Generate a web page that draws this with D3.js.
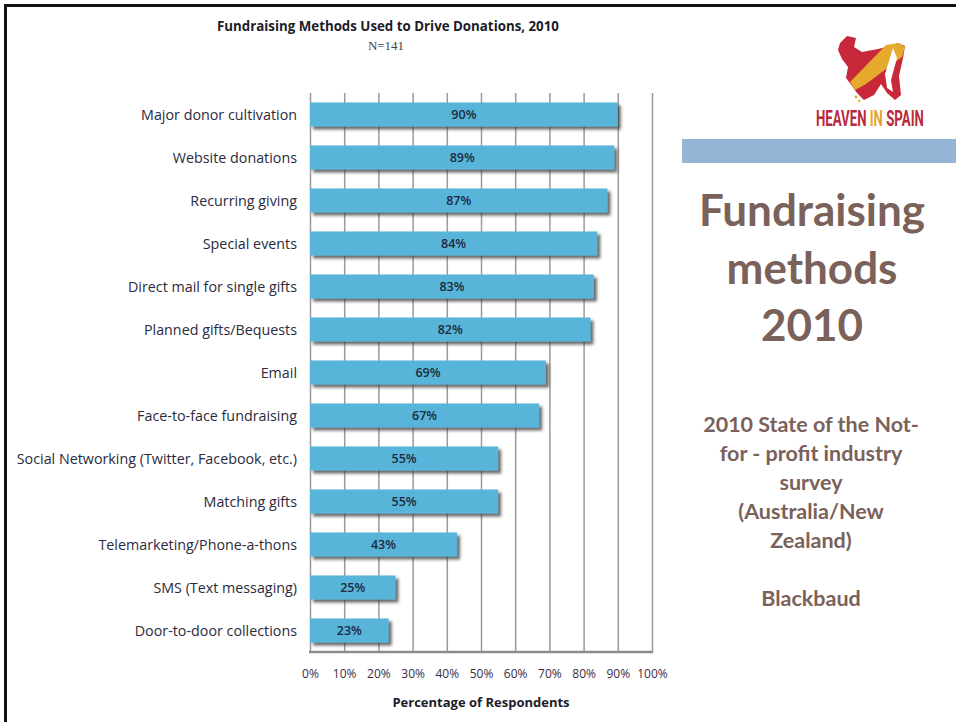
<!DOCTYPE html>
<html>
<head>
<meta charset="utf-8">
<script src="https://cdn.jsdelivr.net/npm/d3@7"></script>
<style>
  html, body { margin: 0; padding: 0; background: #fff; }
  svg { display: block; }
</style>
</head>
<body>
<svg id="slide" width="956" height="722"></svg>
<script>
// Survey results: share of respondents using each fundraising method
const categories = [
  "Major donor cultivation",
  "Website donations",
  "Recurring giving",
  "Special events",
  "Direct mail for single gifts",
  "Planned gifts/Bequests",
  "Email",
  "Face-to-face fundraising",
  "Social Networking (Twitter, Facebook, etc.)",
  "Matching gifts",
  "Telemarketing/Phone-a-thons",
  "SMS (Text messaging)",
  "Door-to-door collections"
];
const values = [90, 89, 87, 84, 83, 82, 69, 67, 55, 55, 43, 25, 23];
const tickValues = [0, 10, 20, 30, 40, 50, 60, 70, 80, 90, 100];

const chartTitle = "Fundraising Methods Used to Drive Donations, 2010";
const chartSubtitle = "N=141";
const axisTitle = "Percentage of Respondents";
const headingLines = ["Fundraising", "methods", "2010"];
const sourceLines = ["2010 State of the Not-", "for - profit industry", "survey", "(Australia/New", "Zealand)", "", "Blackbaud"];
const logoWords = ["HEAVEN ", "IN", " SPAIN"];

const svg = d3.select("#slide");
const brown = "#7a6159";
const labelInk = "#2b2b3d";
const chartFont = "'Open Sans', Lato, sans-serif";

// slide frame (top and left edges)
svg.append("line").attr("x1", 5.5).attr("y1", 5.5).attr("x2", 956).attr("y2", 5.5)
  .attr("stroke", "#111").attr("stroke-width", 3);
svg.append("line").attr("x1", 5.5).attr("y1", 4).attr("x2", 5.5).attr("y2", 722)
  .attr("stroke", "#111").attr("stroke-width", 3);

// drop shadow for the bars
const defs = svg.append("defs");
const f = defs.append("filter").attr("id", "barShadow")
  .attr("x", "-10%").attr("y", "-30%").attr("width", "130%").attr("height", "180%");
f.append("feDropShadow").attr("dx", 3).attr("dy", 3).attr("stdDeviation", 1.4)
  .attr("flood-color", "#3a3a3a").attr("flood-opacity", 0.75);

const x = d3.scaleLinear().domain([0, 100]).range([310, 652]);
const y = d3.scaleBand().domain(categories).range([93, 652])
  .paddingInner(0.44).paddingOuter(0.22);

// vertical gridlines + percent tick labels
const xAxis = d3.axisBottom(x).tickValues(tickValues)
  .tickFormat(d => d + "%").tickSize(-(652 - 93)).tickPadding(17);
const gx = svg.append("g").attr("transform", "translate(0,652)").call(xAxis);
gx.select(".domain").remove();
gx.selectAll(".tick line").attr("stroke", "#9a9a9a").attr("stroke-width", 1.5);
gx.selectAll(".tick text")
  .attr("font-family", chartFont)
  .attr("font-size", 12).attr("fill", "#3b2c48");

// baseline
svg.append("line").attr("x1", x(0) - 1).attr("x2", x(100) + 1)
  .attr("y1", 652).attr("y2", 652)
  .attr("stroke", "#8c8c8c").attr("stroke-width", 2.5);

// bars
svg.append("g").selectAll("rect").data(categories).join("rect")
  .attr("x", x(0))
  .attr("y", d => y(d))
  .attr("width", (d, i) => x(values[i]) - x(0))
  .attr("height", y.bandwidth())
  .attr("fill", "#58b4d8")
  .attr("filter", "url(#barShadow)");

// value labels centred in bars
svg.append("g").selectAll("text").data(categories).join("text")
  .attr("x", (d, i) => (x(0) + x(values[i])) / 2)
  .attr("y", d => y(d) + y.bandwidth() / 2 + 4.5)
  .attr("text-anchor", "middle")
  .attr("font-family", chartFont)
  .attr("font-size", 12.5).attr("font-weight", 600)
  .attr("fill", "#1d2b3f")
  .text((d, i) => values[i] + "%");

// category labels
svg.append("g").selectAll("text").data(categories).join("text")
  .attr("x", 297)
  .attr("y", d => y(d) + y.bandwidth() / 2 + 5)
  .attr("text-anchor", "end")
  .attr("font-family", chartFont)
  .attr("font-size", 14.3)
  .attr("fill", labelInk)
  .text(d => d);

// chart title and sample size
svg.append("text").attr("x", 388).attr("y", 31).attr("text-anchor", "middle")
  .attr("font-family", chartFont)
  .attr("font-size", 13.3).attr("font-weight", 700).attr("fill", "#1c1c28")
  .text(chartTitle);
svg.append("text").attr("x", 386).attr("y", 50).attr("text-anchor", "middle")
  .attr("font-family", "'Liberation Serif', 'DejaVu Serif', serif")
  .attr("font-size", 13).attr("fill", "#444")
  .text(chartSubtitle);

// x-axis title
svg.append("text").attr("x", 481).attr("y", 707).attr("text-anchor", "middle")
  .attr("font-family", chartFont)
  .attr("font-size", 13).attr("font-weight", 700).attr("fill", "#1c1c28")
  .text(axisTitle);

// right-hand panel: accent band
svg.append("rect").attr("x", 682).attr("y", 139).attr("width", 274).attr("height", 24)
  .attr("fill", "#94b5d3");

// logo mark
const logo = svg.append("g");
logo.append("path")
  .attr("d", "M840,43 L847,36 L856,38 L854,47 L862,52 L878,49 L890,46 L898,43 L905,46 L903,58 L899,76 L901,95 L895,100 L887,93 L881,84 L874,95 L864,100 L857,93 L852,86 L846,78 L848,67 L842,59 L838,50 Z")
  .attr("fill", "#c8283a");
logo.append("path")
  .attr("d", "M886,45 L899,43 L905,47 L902,57 L866,84 L855,90 L850,82 Z")
  .attr("fill", "#e5a92d");
logo.append("path")
  .attr("d", "M893,48 L897,58 L891,80 L893,92 L887,88 L885,74 Z")
  .attr("fill", "#fff");
logo.append("circle").attr("cx", 856).attr("cy", 97).attr("r", 1.4).attr("fill", "#e5a92d");
logo.append("circle").attr("cx", 859).attr("cy", 101).attr("r", 1.2).attr("fill", "#e5a92d");

// logo wordmark: one text squeezed horizontally into a tall, condensed look
const wordFill = ["#b82a3c", "#e2a52c", "#b82a3c"];
const mark = svg.append("g");
const markText = mark.append("text")
  .attr("x", 0).attr("y", 0)
  .attr("font-family", "'Liberation Sans Narrow', 'Roboto', sans-serif")
  .attr("font-size", 22).attr("font-weight", 700)
  .style("white-space", "pre");
markText.selectAll("tspan").data(logoWords).join("tspan")
  .attr("fill", (d, i) => wordFill[i])
  .text(d => d);
const naturalW = markText.node().getComputedTextLength() || 110;
mark.attr("transform", `translate(816,126) scale(${108 / naturalW},1)`);

// heading
svg.append("g").selectAll("text").data(headingLines).join("text")
  .attr("x", 812).attr("y", (d, i) => 226 + i * 57.5)
  .attr("text-anchor", "middle")
  .attr("font-family", "Lato, 'Open Sans', sans-serif")
  .attr("font-size", 44).attr("font-weight", 700).attr("fill", brown)
  .text(d => d);

// source note
svg.append("g").selectAll("text").data(sourceLines).join("text")
  .attr("x", 811).attr("y", (d, i) => 432 + i * 29)
  .attr("text-anchor", "middle")
  .attr("font-family", "Lato, 'Open Sans', sans-serif")
  .attr("font-size", 21.5).attr("font-weight", 700).attr("fill", brown)
  .text(d => d);
</script>
</body>
</html>
